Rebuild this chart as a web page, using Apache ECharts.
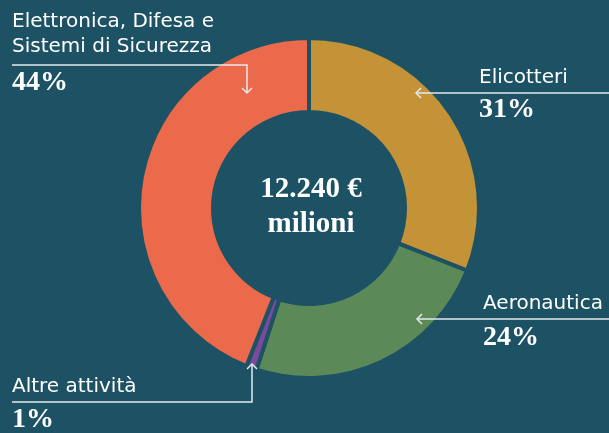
<!DOCTYPE html>
<html><head><meta charset="utf-8">
<script src="https://cdn.jsdelivr.net/npm/echarts@6/dist/echarts.min.js"></script>
<style>html,body{margin:0;padding:0;background:#1d5265;}#c{width:609px;height:433px;}</style>
</head><body><div id="c"></div>
<script>
var categories = ["Elicotteri", "Aeronautica", "Altre attività", "Elettronica, Difesa e Sistemi di Sicurezza"];
var values = [31, 24, 1, 44];
var colors = ["#c49338", "#5b8a58", "#7a4a9c", "#ec6a4c"];
var totalLabel = ["12.240 €", "milioni"];

var BG = "#1d5265", LINE = "#e3e9eb";
var SANS = "'DejaVu Sans', sans-serif", SERIF = "'Liberation Serif', serif";
function txt(x, y, s, font, size, weight, align) {
  return {type: "text", x: x, y: y, silent: true, z: 100,
    style: {text: s, fill: "#ffffff", font: (weight || "normal") + " " + size + "px " + font,
      textAlign: align || "left", textVerticalAlign: "middle"}};
}
function poly(pts) {
  return {type: "polyline", silent: true, z: 100, shape: {points: pts},
    style: {stroke: LINE, lineWidth: 1.5, fill: null}};
}
var chart = echarts.init(document.getElementById("c"), null, {renderer: "canvas"});
chart.setOption({
  backgroundColor: BG,
  animation: false,
  series: [{
    type: "pie", center: [309, 208], radius: [96, 170], startAngle: 90, clockwise: true,
    label: {show: false}, labelLine: {show: false}, silent: true, z: 1,
    itemStyle: {borderColor: BG, borderWidth: 4},
    data: categories.map(function (c, i) { return {name: c, value: values[i], itemStyle: {color: colors[i]}}; })
  }],
  graphic: [
    txt(311, 190, totalLabel[0], SERIF, 29, "bold", "center"),
    txt(311, 225, totalLabel[1], SERIF, 29, "bold", "center"),
    txt(12, 22, "Elettronica, Difesa e", SANS, 20),
    txt(12, 47, "Sistemi di Sicurezza", SANS, 20),
    txt(12, 83, values[3] + "%", SERIF, 28, "bold"),
    poly([[12, 65], [247, 65], [247, 93]]),
    poly([[242, 88], [247, 93], [252, 88]]),
    txt(479, 78, categories[0], SANS, 20),
    txt(479, 110, values[0] + "%", SERIF, 28, "bold"),
    poly([[609, 93], [416, 93]]),
    poly([[421, 88], [416, 93], [421, 98]]),
    txt(483, 304, categories[1], SANS, 20),
    txt(483, 338, values[1] + "%", SERIF, 28, "bold"),
    poly([[609, 319], [417, 319]]),
    poly([[422, 314], [417, 319], [422, 324]]),
    txt(12, 387, categories[2], SANS, 20),
    txt(12, 420, values[2] + "%", SERIF, 28, "bold"),
    poly([[12, 402], [252, 402], [252, 364]]),
    poly([[247, 369], [252, 364], [257, 369]])
  ]
});
</script></body></html>
